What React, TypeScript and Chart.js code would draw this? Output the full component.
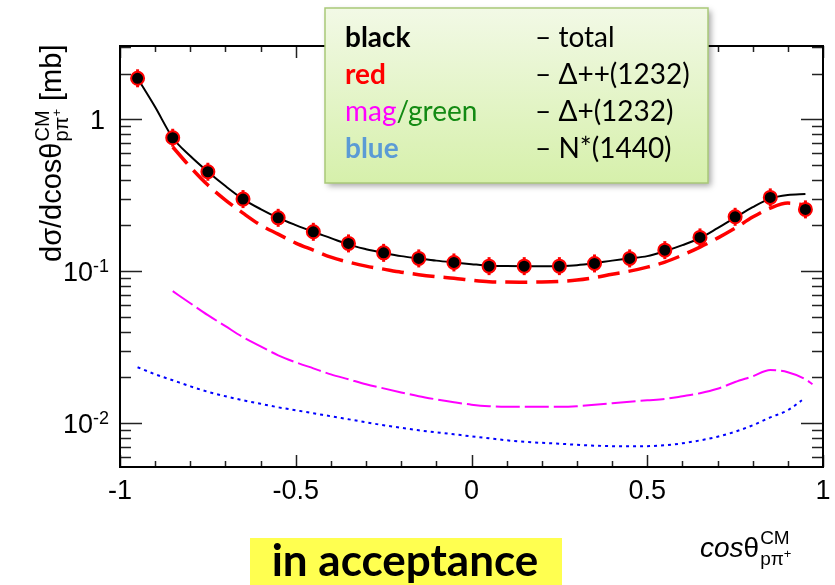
import React, { useEffect, useRef } from 'react';
import { Chart, registerables } from 'chart.js';

Chart.register(...registerables);

// ---------- data ----------
const POINT_X = [-0.95, -0.85, -0.75, -0.65, -0.55, -0.45, -0.35, -0.25, -0.15, -0.05, 0.05, 0.15, 0.25, 0.35, 0.45, 0.55, 0.65, 0.75, 0.85, 0.95];
const POINT_Y = [1.863, 0.756, 0.4515, 0.2983, 0.2245, 0.1816, 0.1523, 0.132, 0.1213, 0.1141, 0.1079, 0.1079, 0.1079, 0.1124, 0.1213, 0.1375, 0.1668, 0.228, 0.3061, 0.2551];

const TOTAL_X = [-0.95, -0.9, -0.85, -0.8, -0.75, -0.7, -0.65, -0.6, -0.55, -0.5, -0.45, -0.4, -0.35, -0.3, -0.25, -0.2, -0.15, -0.1, -0.05, 0, 0.05, 0.1, 0.15, 0.2, 0.25, 0.3, 0.35, 0.4, 0.45, 0.5, 0.55, 0.6, 0.65, 0.7, 0.75, 0.8, 0.85, 0.9, 0.95];
const TOTAL_Y = [1.863, 1.205, 0.756, 0.573, 0.4515, 0.3634, 0.2983, 0.2563, 0.2245, 0.201, 0.1816, 0.165, 0.1495, 0.1396, 0.132, 0.1256, 0.1213, 0.1173, 0.1141, 0.1112, 0.1087, 0.1082, 0.1078, 0.1076, 0.108, 0.1095, 0.1129, 0.1173, 0.1213, 0.1256, 0.1354, 0.1484, 0.165, 0.192, 0.2253, 0.2642, 0.3006, 0.317, 0.3219];

const DPP_X = [-0.85, -0.8, -0.75, -0.7, -0.65, -0.6, -0.55, -0.5, -0.45, -0.4, -0.35, -0.3, -0.25, -0.2, -0.15, -0.1, -0.05, 0, 0.05, 0.1, 0.15, 0.2, 0.25, 0.3, 0.35, 0.4, 0.45, 0.5, 0.55, 0.6, 0.65, 0.7, 0.75, 0.8, 0.85, 0.9, 0.95];
const DPP_Y = [0.657, 0.4849, 0.3688, 0.2938, 0.2411, 0.201, 0.1753, 0.153, 0.1375, 0.1237, 0.1147, 0.1079, 0.1031, 0.0985, 0.0948, 0.092, 0.0899, 0.0873, 0.0853, 0.0847, 0.0846, 0.0848, 0.0856, 0.0873, 0.0906, 0.0955, 0.1, 0.1063, 0.1147, 0.1275, 0.1439, 0.165, 0.192, 0.227, 0.2602, 0.2807, 0.2723];

const DP_X = [-0.85, -0.8, -0.75, -0.7, -0.65, -0.6, -0.55, -0.5, -0.45, -0.4, -0.35, -0.3, -0.25, -0.2, -0.15, -0.1, -0.05, 0, 0.05, 0.1, 0.15, 0.2, 0.25, 0.3, 0.35, 0.4, 0.45, 0.5, 0.55, 0.6, 0.65, 0.7, 0.75, 0.8, 0.85, 0.9, 0.95, 0.97];
const DP_Y = [0.0738, 0.0615, 0.0513, 0.0434, 0.0367, 0.032, 0.0279, 0.0251, 0.0229, 0.0209, 0.0194, 0.018, 0.0169, 0.0159, 0.015, 0.0143, 0.0137, 0.0132, 0.0129, 0.0128, 0.0128, 0.0128, 0.0128, 0.0129, 0.0132, 0.0135, 0.0138, 0.0141, 0.0144, 0.015, 0.0157, 0.0168, 0.0186, 0.0203, 0.0223, 0.0216, 0.0194, 0.018];

const NSTAR_X = [-0.95, -0.9, -0.85, -0.8, -0.75, -0.7, -0.65, -0.6, -0.55, -0.5, -0.45, -0.4, -0.35, -0.3, -0.25, -0.2, -0.15, -0.1, -0.05, 0, 0.05, 0.1, 0.15, 0.2, 0.25, 0.3, 0.35, 0.4, 0.45, 0.5, 0.55, 0.6, 0.65, 0.7, 0.75, 0.8, 0.85, 0.9, 0.94];
const NSTAR_Y = [0.02329, 0.02094, 0.01912, 0.01745, 0.01605, 0.015, 0.01411, 0.01338, 0.01269, 0.01213, 0.01159, 0.01107, 0.01058, 0.01011, 0.00966, 0.0093, 0.00895, 0.00868, 0.00842, 0.00817, 0.00793, 0.00769, 0.00752, 0.0074, 0.00731, 0.00718, 0.00709, 0.00704, 0.00702, 0.00704, 0.00713, 0.00735, 0.00768, 0.00812, 0.00876, 0.00966, 0.01088, 0.01213, 0.01411];

// ticks
const X_MAJOR = [-1, -0.5, 0, 0.5, 1];
const X_LABELS = ['-1', '-0.5', '0', '0.5', '1'];
const X_MINOR = [-0.9, -0.8, -0.7, -0.6, -0.4, -0.3, -0.2, -0.1, 0.1, 0.2, 0.3, 0.4, 0.6, 0.7, 0.8, 0.9];
const Y_MAJOR = [0.01, 0.1, 1];
const Y_LABEL_BASE = ['10', '10', '1'];
const Y_LABEL_EXP = ['-2', '-1', ''];
const Y_MINOR = [0.006, 0.007, 0.008, 0.009, 0.02, 0.03, 0.04, 0.05, 0.06, 0.07, 0.08, 0.09, 0.2, 0.3, 0.4, 0.5, 0.6, 0.7, 0.8, 0.9, 2, 3];

// legend texts
const LEGEND_KEYS = ['black', 'red', 'mag/green', 'blue'];
const LEGEND_DESC = ['\u2013 total', '\u2013 \u0394++(1232)', '\u2013 \u0394+(1232)', '\u2013 N*(1440)'];
const BANNER = 'in acceptance';

const zip = (xs: number[], ys: number[]) => xs.map((x, i) => ({ x, y: ys[i] }));

const SANS = '"Liberation Sans", Arial, sans-serif';
const LEG = 'Lato, "Open Sans", sans-serif';

const decorPlugin = {
  id: 'decor',
  afterDraw(chart: any) {
    const { ctx, chartArea: a, scales } = chart;
    const xs = scales.x;
    const ys = scales.y;
    ctx.save();

    // ticks (inward, ROOT style)
    ctx.strokeStyle = '#222';
    ctx.lineWidth = 1.5;
    ctx.beginPath();
    const xTick = (v: number, len: number) => {
      const px = Math.round(xs.getPixelForValue(v)) + 0.5;
      ctx.moveTo(px, a.bottom); ctx.lineTo(px, a.bottom - len);
      ctx.moveTo(px, a.top); ctx.lineTo(px, a.top + len);
    };
    const yTick = (v: number, len: number) => {
      const py = Math.round(ys.getPixelForValue(v)) + 0.5;
      ctx.moveTo(a.left, py); ctx.lineTo(a.left + len, py);
      ctx.moveTo(a.right, py); ctx.lineTo(a.right - len, py);
    };
    X_MAJOR.forEach((v) => xTick(v, 12));
    X_MINOR.forEach((v) => xTick(v, 6));
    Y_MAJOR.forEach((v) => yTick(v, 22));
    Y_MINOR.forEach((v) => {
      if (v > ys.min && v < ys.max) yTick(v, 11);
    });
    ctx.stroke();

    // frame
    ctx.strokeStyle = '#000';
    ctx.lineWidth = 2;
    ctx.strokeRect(a.left, a.top, a.right - a.left, a.bottom - a.top);

    // x tick labels
    ctx.fillStyle = '#000';
    ctx.font = `27px ${SANS}`;
    ctx.textAlign = 'center';
    ctx.textBaseline = 'alphabetic';
    X_MAJOR.forEach((v, i) => {
      ctx.fillText(X_LABELS[i], xs.getPixelForValue(v), a.bottom + 32);
    });

    // y tick labels
    Y_MAJOR.forEach((v, i) => {
      const py = ys.getPixelForValue(v);
      const right = 109;
      ctx.textAlign = 'left';
      if (Y_LABEL_EXP[i]) {
        ctx.font = `18px ${SANS}`;
        const we = ctx.measureText(Y_LABEL_EXP[i]).width;
        ctx.font = `27px ${SANS}`;
        const wb = ctx.measureText(Y_LABEL_BASE[i]).width;
        ctx.fillText(Y_LABEL_BASE[i], right - we - wb, py + 10);
        ctx.font = `18px ${SANS}`;
        ctx.fillText(Y_LABEL_EXP[i], right - we, py + 1);
      } else {
        ctx.font = `27px ${SANS}`;
        const wb = ctx.measureText(Y_LABEL_BASE[i]).width;
        ctx.fillText(Y_LABEL_BASE[i], right - 4 - wb, py + 10);
      }
    });

    // y axis title (rotated)
    ctx.save();
    ctx.translate(61, 262);
    ctx.rotate(-Math.PI / 2);
    ctx.textAlign = 'left';
    let x = 0;
    ctx.font = `29px ${SANS}`;
    ctx.fillText('d\u03c3/dcos\u03b8', x, 0);
    x += ctx.measureText('d\u03c3/dcos\u03b8').width + 1;
    ctx.font = `20px ${SANS}`;
    ctx.fillText('CM', x, -12);
    const wcm = ctx.measureText('CM').width;
    ctx.fillText('p\u03c0', x, 7);
    const wsub = ctx.measureText('p\u03c0').width;
    ctx.font = `13px ${SANS}`;
    ctx.fillText('+', x + wsub, 0);
    const wplus = ctx.measureText('+').width;
    x += Math.max(wcm, wsub + wplus);
    ctx.font = `29px ${SANS}`;
    ctx.fillText(' [mb]', x, 0);
    ctx.restore();

    // x axis title
    {
      let tx = 700;
      const by = 557;
      ctx.textAlign = 'left';
      ctx.font = `italic 28px ${SANS}`;
      ctx.fillText('cos', tx, by);
      tx += ctx.measureText('cos').width;
      ctx.font = `28px ${SANS}`;
      ctx.fillText('\u03b8', tx, by);
      tx += ctx.measureText('\u03b8').width + 1;
      ctx.font = `19px ${SANS}`;
      ctx.fillText('CM', tx, by - 13);
      ctx.fillText('p\u03c0', tx, by + 8);
      const w2 = ctx.measureText('p\u03c0').width;
      ctx.font = `13px ${SANS}`;
      ctx.fillText('+', tx + w2, by + 1);
    }

    // legend box
    {
      const bx = 325, by = 8, bw = 383, bh = 175;
      ctx.save();
      ctx.shadowColor = 'rgba(0,0,0,0.35)';
      ctx.shadowBlur = 6;
      ctx.shadowOffsetX = 3;
      ctx.shadowOffsetY = 3;
      const g = ctx.createLinearGradient(0, by, 0, by + bh);
      g.addColorStop(0, '#f2f9e6');
      g.addColorStop(1, '#d6f0ab');
      ctx.fillStyle = g;
      ctx.fillRect(bx, by, bw, bh);
      ctx.restore();
      ctx.strokeStyle = '#a9c978';
      ctx.lineWidth = 1.5;
      ctx.strokeRect(bx, by, bw, bh);

      const rows = [47, 84, 121, 158];
      const lx = 345, rx = 535;
      ctx.textAlign = 'left';
      ctx.font = `bold 28px ${LEG}`;
      ctx.fillStyle = '#000';
      ctx.fillText(LEGEND_KEYS[0], lx, rows[0]);
      ctx.fillStyle = '#ff0000';
      ctx.fillText(LEGEND_KEYS[1], lx, rows[1]);
      const [mag, green] = LEGEND_KEYS[2].split('/');
      ctx.font = `28px ${LEG}`;
      ctx.fillStyle = '#ff00ff';
      ctx.fillText(mag, lx, rows[2]);
      const wm = ctx.measureText(mag).width;
      ctx.fillStyle = '#138a13';
      ctx.fillText('/' + green, lx + wm, rows[2]);
      ctx.font = `bold 28px ${LEG}`;
      ctx.fillStyle = '#5b9bd5';
      ctx.fillText(LEGEND_KEYS[3], lx, rows[3]);

      ctx.font = `28px ${LEG}`;
      ctx.fillStyle = '#000';
      LEGEND_DESC.forEach((t, i) => ctx.fillText(t, rx, rows[i]));
    }

    // banner
    {
      ctx.fillStyle = '#ffff50';
      ctx.fillRect(250, 538, 312, 47);
      ctx.fillStyle = '#000';
      ctx.font = `bold 44px ${LEG}`;
      ctx.textAlign = 'center';
      ctx.fillText(BANNER, 405, 576);
    }

    ctx.restore();
  },
};

export default function App() {
  const ref = useRef<HTMLCanvasElement | null>(null);

  useEffect(() => {
    if (!ref.current) return;
    const chart = new Chart(ref.current, {
      type: 'scatter',
      data: {
        datasets: [
          {
            label: 'data',
            data: zip(POINT_X, POINT_Y),
            showLine: false,
            pointRadius: 6.5,
            pointBackgroundColor: '#000',
            pointBorderColor: '#ff0000',
            pointBorderWidth: 2,
          },
          {
            label: 'errors',
            data: zip(POINT_X, POINT_Y),
            showLine: false,
            pointStyle: 'line',
            rotation: 90,
            pointRadius: 9,
            pointBorderColor: '#ff0000',
            pointBorderWidth: 3,
          },
          {
            label: 'total',
            data: zip(TOTAL_X, TOTAL_Y),
            showLine: true,
            borderColor: '#000',
            borderWidth: 2,
            pointRadius: 0,
            cubicInterpolationMode: 'monotone',
          },
          {
            label: 'Delta++(1232)',
            data: zip(DPP_X, DPP_Y),
            showLine: true,
            borderColor: '#ff0000',
            borderWidth: 3.5,
            borderDash: [22, 9],
            pointRadius: 0,
            cubicInterpolationMode: 'monotone',
          },
          {
            label: 'Delta+(1232)',
            data: zip(DP_X, DP_Y),
            showLine: true,
            borderColor: '#ff00ff',
            borderWidth: 2,
            borderDash: [24, 5],
            pointRadius: 0,
            cubicInterpolationMode: 'monotone',
          },
          {
            label: 'N*(1440)',
            data: zip(NSTAR_X, NSTAR_Y),
            showLine: true,
            borderColor: '#0000ff',
            borderWidth: 2,
            borderDash: [3, 4],
            pointRadius: 0,
            cubicInterpolationMode: 'monotone',
          },
        ],
      },
      options: {
        responsive: false,
        animation: false,
        layout: { padding: { left: 120, right: 9, top: 46, bottom: 118 } },
        plugins: { legend: { display: false }, tooltip: { enabled: false } },
        scales: {
          x: { type: 'linear', min: -1, max: 1, display: false },
          y: { type: 'logarithmic', min: 0.00513, max: 3.04, display: false },
        },
      },
      plugins: [decorPlugin],
    } as any);
    return () => chart.destroy();
  }, []);

  return (
    <div style={{ position: 'absolute', left: 0, top: 0, width: 835, height: 585, background: '#fff' }}>
      <canvas ref={ref} width={835} height={585} style={{ display: 'block' }} />
    </div>
  );
}
